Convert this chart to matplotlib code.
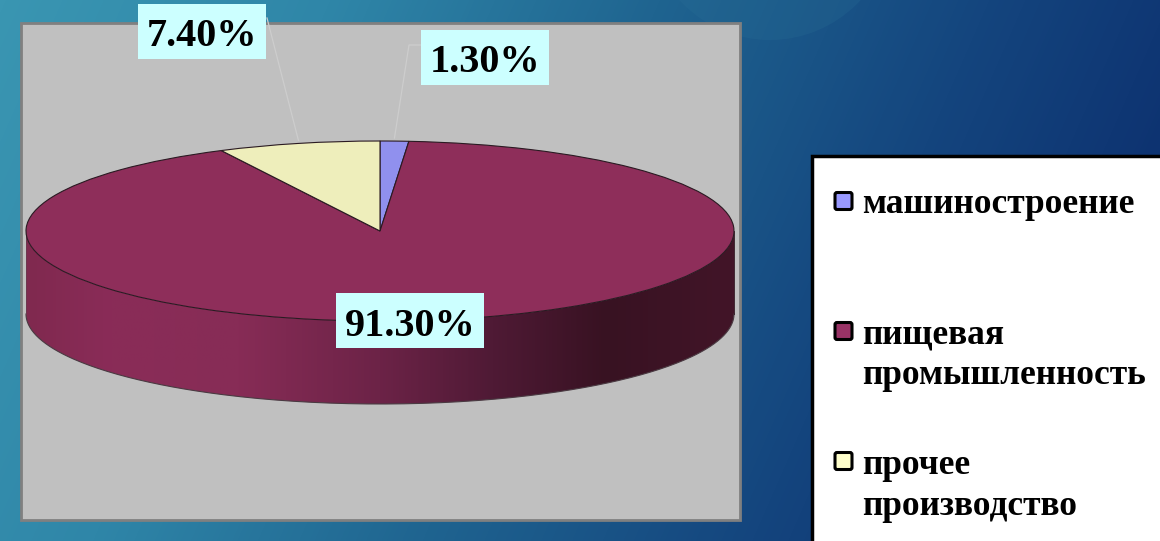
import numpy as np
import matplotlib
matplotlib.use("Agg")
import matplotlib.pyplot as plt
from matplotlib.colors import LinearSegmentedColormap
from matplotlib.patches import Rectangle, Polygon, Ellipse, FancyBboxPatch

# ---- data ----
categories = ["машиностроение", "пищевая\nпромышленность", "прочее\nпроизводство"]
values = [1.3, 91.3, 7.4]
value_labels = ["1.30%", "91.30%", "7.40%"]
top_colors = ["#9090EE", "#8E2E5A", "#EEEEBB"]
legend_colors = ["#9999FF", "#993366", "#FFFFCC"]

W, H = 1160, 541
CX, CY, RX, RY, DEPTH = 380, 231, 354, 90, 83
SERIF = "Liberation Serif"

fig = plt.figure(figsize=(W / 100, H / 100), dpi=100)

# page background
bg = fig.add_axes([0, 0, 1, 1], zorder=0)
bg.set_axis_off()
yy, xx = np.mgrid[0:H, 0:W]
t = np.clip((xx / W * 0.88 + yy / H * 0.18), 0, 1)
bg_cmap = LinearSegmentedColormap.from_list(
    "bg", ["#3A96B2", "#2F86A8", "#1F6490", "#14457E", "#0B2C6C"])
bg.imshow(t, cmap=bg_cmap, extent=(0, W, H, 0), aspect="auto", vmin=0, vmax=1)
bg.add_patch(Ellipse((770, -83), 246, 246, fc="#2C7398", ec="none", alpha=0.22))
bg.set_xlim(0, W)
bg.set_ylim(H, 0)

# chart plot area
bg.add_patch(Rectangle((20.5, 23), 719, 497, fc="#C0C0C0", ec="#808080", lw=2, zorder=2))

# pie axes: unit circle stretched over the ellipse, covering the whole figure
ax = fig.add_axes([0, 0, 1, 1], zorder=1)
ax.patch.set_alpha(0)
wedges, _ = ax.pie(values, colors=top_colors, startangle=90, counterclock=False,
                   wedgeprops=dict(edgecolor="#2A1A22", linewidth=0.8))
for w in wedges:
    w.set_zorder(5)
ax.set_aspect("auto")
ax.set_axis_off()

# cylinder wall
d = DEPTH / RY
th = np.linspace(np.pi, 2 * np.pi, 300)
ex, ey = np.cos(th), np.sin(th)
wall = Polygon(np.r_[np.c_[ex, ey], np.c_[ex[::-1], ey[::-1] - d]],
               closed=True, fc="none", ec="none", transform=ax.transData)
ax.add_patch(wall)
shade = LinearSegmentedColormap.from_list(
    "wall", [(0, "#80294F"), (0.12, "#8A2C58"), (0.30, "#872C56"), (0.50, "#6C2347"),
             (0.66, "#4F1A35"), (0.82, "#381222"), (1, "#421528")])
img = ax.imshow(np.linspace(0, 1, 512)[None, :], cmap=shade, vmin=0, vmax=1,
                extent=(-1, 1, -1 - d, 1), aspect="auto", zorder=3)
img.set_clip_path(wall)
ax.plot(ex, ey - d, color="#4A3A42", lw=0.8, zorder=4)
ax.plot([-1, -1], [0, -d], color="#6A3A50", lw=0.6, zorder=4)
ax.plot([1, 1], [0, -d], color="#2A0E1A", lw=0.6, zorder=4)
ax.set_aspect("auto")
ax.set_xlim((0 - CX) / RX, (W - CX) / RX)
ax.set_ylim((CY - H) / RY, (CY - 0) / RY)

# data labels with leader lines from slice midpoints
lab = fig.add_axes([0, 0, 1, 1], zorder=2)
lab.set_axis_off()
lab.patch.set_alpha(0)
lab.set_xlim(0, W)
lab.set_ylim(H, 0)

fractions = np.array(values) / sum(values)
mids = (np.cumsum(fractions) - fractions / 2) * 2 * np.pi
mid_x = CX + RX * np.sin(mids)
mid_y = CY - RY * np.cos(mids)

boxes = {"1.30%": (421, 30, 549, 85), "91.30%": (336, 293, 484, 348), "7.40%": (138, 4, 266, 59)}
leaders = {"1.30%": [(421, 45), (409, 45)], "7.40%": [(267, 18)]}
for label, mx, my in zip(value_labels, mid_x, mid_y):
    if label in leaders:
        pts = leaders[label] + [(mx, my - 3)]
        lab.plot(*zip(*pts), color="#CDCDCD", lw=0.9, zorder=1)
for label in value_labels:
    x0, y0, x1, y1 = boxes[label]
    lab.add_patch(Rectangle((x0, y0), x1 - x0, y1 - y0, fc="#CCFFFF", ec="none", zorder=2))
    lab.text((x0 + x1) / 2, (y0 + y1) / 2 + 15, label, family=SERIF, weight="bold",
             fontsize=29, color="black", ha="center", va="baseline", zorder=3)

# legend
lab.add_patch(Rectangle((811.5, 155.5), 400, 450, fc="white", ec="black", lw=2.5, zorder=2))
swatch_y = [201, 331, 461]
baselines = [213, 343, 474]
line_gap = 41
for c, name, sy, by in zip(legend_colors, categories, swatch_y, baselines):
    lab.add_patch(FancyBboxPatch((835, sy - 8.5), 17, 17, boxstyle="round,pad=0,rounding_size=2",
                                 fc=c, ec="black", lw=2.2, zorder=3))
    for i, line in enumerate(name.split("\n")):
        lab.text(862, by + i * line_gap, line, family=SERIF, weight="bold", fontsize=25.5,
                 color="black", ha="left", va="baseline", zorder=3)

fig.savefig("out.png", dpi=100)
